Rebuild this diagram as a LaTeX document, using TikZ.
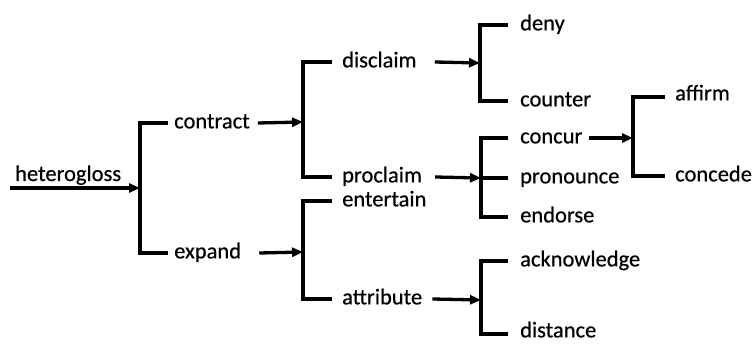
\documentclass[tikz,border=0pt]{standalone}
\usepackage{fontspec}
\setmainfont{Carlito}[FakeBold=0.5]
\usetikzlibrary{arrows.meta}
\begin{document}
\fontsize{22.5}{24}\selectfont
\begin{tikzpicture}[x=1pt,y=-1pt,
  lbl/.style={anchor=mid west,inner sep=0pt},
  br/.style={line width=3.3pt,line join=miter},
  arr/.style={line width=3.3pt,-{Triangle[length=11pt,width=9pt]}}]
\useasboundingbox (0,0) rectangle (756,344);

% labels
\node[lbl,anchor=base west] (hetero) at (15,181) {heterogloss};
\node[lbl] (contract)  at (174,123) {contract};
\node[lbl] (expand)    at (174,253) {expand};
\node[lbl] (disclaim)  at (342,62)  {disclaim};
\node[lbl] (proclaim)  at (342,177) {proclaim};
\node[lbl] (entertain) at (342,201) {entertain};
\node[lbl] (attribute) at (342,299) {attribute};
\node[lbl] (deny)      at (520,25)  {deny};
\node[lbl] (counter)   at (520,101) {counter};
\node[lbl] (concur)    at (520,138) {concur};
\node[lbl] (pronounce) at (520,178) {pronounce};
\node[lbl] (endorse)   at (520,217) {endorse};
\node[lbl] (ackn)      at (520,261) {acknowledge};
\node[lbl] (distance)  at (520,332) {distance};
\node[lbl] (affirm)    at (675,95)  {affirm};
\node[lbl] (concede)   at (675,176) {concede};

% bracket junctions
\coordinate (b1) at (140,188);
\coordinate (b2) at (303,122);
\coordinate (b3) at (303,252);
\coordinate (b4) at (480,63);
\coordinate (b5) at (481,178);
\coordinate (b6) at (633,138);
\coordinate (b7) at (481,300);
\coordinate (start) at (10,188);

% brackets
\draw[br] ([xshift=-6pt]contract.mid west) -| (b1) |- ([xshift=-6pt]expand.mid west);
\draw[br] ([xshift=-10pt]disclaim.mid west) -| (b2) |- ([xshift=-10pt]proclaim.mid west);
\draw[br] ([xshift=-10pt]entertain.mid west) -| (b3) |- ([xshift=-10pt]attribute.mid west);
\draw[br] ([xshift=-12pt]deny.mid west) -| (b4) |- ([xshift=-12pt]counter.mid west);
\draw[br] ([xshift=-12pt]concur.mid west) -| (b5) |- ([xshift=-12pt]endorse.mid west);
\draw[br] (b5) -- ([xshift=-12pt]pronounce.mid west);
\draw[br] ([xshift=-10pt,yshift=-2pt]affirm.mid west) -| (b6) |- ([xshift=-10pt]concede.mid west);
\draw[br] ([xshift=-12pt]ackn.mid west) -| (b7) |- ([xshift=-12pt,yshift=-2pt]distance.mid west);

% arrows
\draw[arr] (start) -- (b1);
\draw[arr] ([xshift=8pt]contract.mid east) -- (b2);
\draw[arr] ([xshift=18pt]expand.mid east) -- (b3);
\draw[arr] ([xshift=18pt]disclaim.mid east) -- (b4);
\draw[arr] ([xshift=13pt]proclaim.mid east) -- (b5);
\draw[arr] ([xshift=6pt]concur.mid east) -- (b6);
\draw[arr] ([xshift=10pt]attribute.mid east) -- (b7);
\end{tikzpicture}
\end{document}
